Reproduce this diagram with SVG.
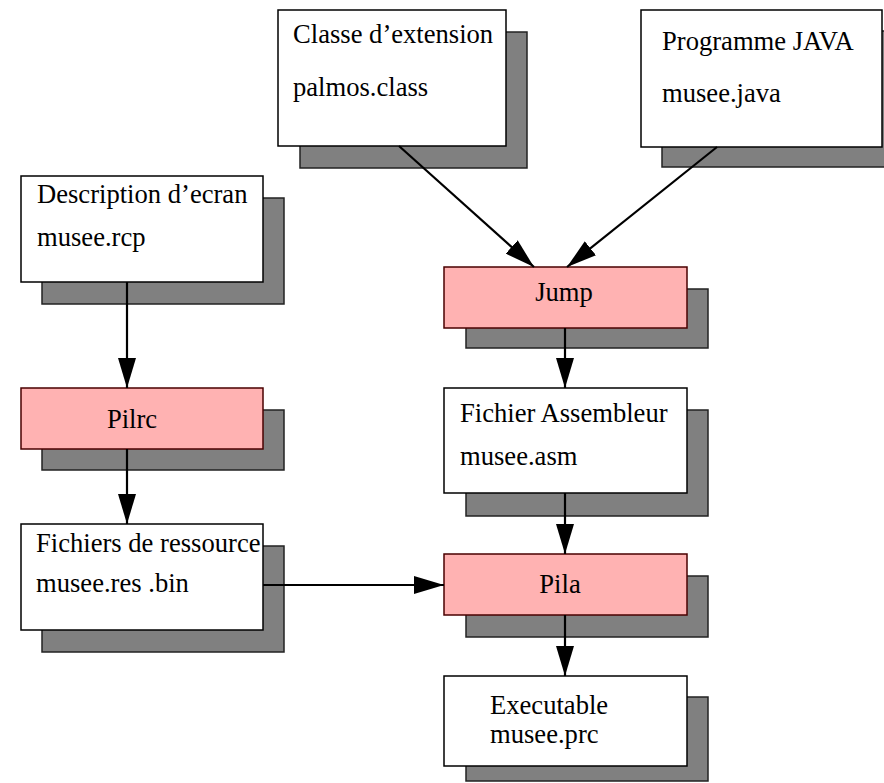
<svg xmlns="http://www.w3.org/2000/svg" width="884" height="783" viewBox="0 0 884 783">
<style>
.shadow{fill:#808080;stroke:#222;stroke-width:1.5}
.box{fill:#ffffff;stroke:#000;stroke-width:1.5}
.tool{fill:#ffb2b2;stroke:#4a0000;stroke-width:1.5}
text{font-family:"Liberation Serif","Times New Roman",serif;font-size:26.6px;fill:#000}
.c{text-anchor:middle}
.edge{stroke:#000;stroke-width:2.2;fill:none;marker-end:url(#ah)}
</style>
<defs>
<marker id="ah" viewBox="0 0 30 18" refX="30" refY="9" markerWidth="30" markerHeight="18" markerUnits="userSpaceOnUse" orient="auto">
<path d="M0,0 L30,9 L0,18 z" fill="#000"/>
</marker>
</defs>
<rect width="884" height="783" fill="#fff"/>
<g id="classe">
<rect class="shadow" x="300" y="32" width="227" height="136"/>
<rect class="box" x="278" y="10" width="228" height="136"/>
<text x="293" y="43">Classe d’extension</text>
<text x="293" y="96">palmos.class</text>
</g>
<g id="programme">
<rect class="shadow" x="662" y="31" width="241" height="136"/>
<rect class="box" x="641" y="10" width="241" height="137"/>
<text x="662" y="50">Programme JAVA</text>
<text x="662" y="102">musee.java</text>
</g>
<g id="description">
<rect class="shadow" x="42" y="198" width="242" height="106"/>
<rect class="box" x="21" y="176" width="242" height="106"/>
<text x="37" y="203">Description d’ecran</text>
<text x="37" y="246">musee.rcp</text>
</g>
<g id="jump">
<rect class="shadow" x="466" y="289" width="242" height="59"/>
<rect class="tool" x="444" y="267" width="243" height="61"/>
<text class="c" x="564" y="301">Jump</text>
</g>
<g id="pilrc">
<rect class="shadow" x="42" y="410" width="242" height="60"/>
<rect class="tool" x="21" y="388" width="242" height="61"/>
<text class="c" x="132" y="428">Pilrc</text>
</g>
<g id="assembleur">
<rect class="shadow" x="466" y="410" width="242" height="106"/>
<rect class="box" x="444" y="388" width="243" height="105"/>
<text x="460" y="422">Fichier Assembleur</text>
<text x="460" y="465">musee.asm</text>
</g>
<g id="ressource">
<rect class="shadow" x="42" y="546" width="242" height="106"/>
<rect class="box" x="21" y="524" width="242" height="106"/>
<text x="36" y="552">Fichiers de ressource</text>
<text x="36" y="592">musee.res .bin</text>
</g>
<g id="pila">
<rect class="shadow" x="466" y="576" width="242" height="61"/>
<rect class="tool" x="444" y="554" width="243" height="61"/>
<text class="c" x="560" y="593">Pila</text>
</g>
<g id="executable">
<rect class="shadow" x="466" y="697" width="242" height="84"/>
<rect class="box" x="444" y="676" width="243" height="90"/>
<text x="490" y="714">Executable</text>
<text x="490" y="743">musee.prc</text>
</g>
<g id="connectors">
<line class="edge" x1="399" y1="146" x2="534" y2="267"/>
<line class="edge" x1="717" y1="147" x2="567" y2="267"/>
<line class="edge" x1="127" y1="282" x2="127" y2="388"/>
<line class="edge" x1="127" y1="449" x2="127" y2="524"/>
<line class="edge" x1="565" y1="328" x2="565" y2="388"/>
<line class="edge" x1="565" y1="493" x2="565" y2="554"/>
<line class="edge" x1="263" y1="585" x2="444" y2="585"/>
<line class="edge" x1="565" y1="615" x2="565" y2="676"/>
</g>
</svg>
